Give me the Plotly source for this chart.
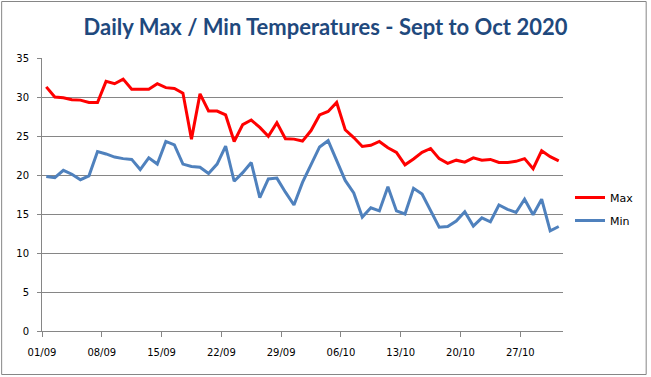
import pandas as pd
import plotly.graph_objects as go

start_date = "2020-09-01"
n_days = 61
max_temps = [31.3, 30.0, 29.9, 29.65, 29.6, 29.3, 29.3, 32.0, 31.7, 32.3,
             31.0, 31.0, 31.0, 31.7, 31.2, 31.1, 30.5, 24.6, 30.4, 28.2,
             28.2, 27.7, 24.3, 26.45, 27.05, 26.1, 24.95, 26.7, 24.65, 24.6,
             24.35, 25.7, 27.7, 28.15, 29.3, 25.8, 24.8, 23.65, 23.8, 24.3,
             23.5, 22.9, 21.3, 22.05, 22.9, 23.4, 22.1, 21.5, 21.9, 21.65,
             22.2, 21.9, 22.0, 21.6, 21.6, 21.75, 22.1, 20.8, 23.1, 22.35, 21.8]
min_temps = [19.8, 19.65, 20.6, 20.1, 19.4, 19.9, 23.0, 22.7, 22.3, 22.1,
             22.0, 20.7, 22.2, 21.4, 24.3, 23.85, 21.4, 21.1, 21.0, 20.2,
             21.4, 23.7, 19.2, 20.3, 21.6, 17.1, 19.5, 19.6, 17.8, 16.15,
             19.05, 21.4, 23.6, 24.4, 21.8, 19.3, 17.7, 14.6, 15.8, 15.4,
             18.5, 15.4, 15.0, 18.3, 17.55, 15.5, 13.3, 13.4, 14.1, 15.3,
             13.45, 14.5, 14.0, 16.15, 15.6, 15.2, 16.9, 14.9, 16.9, 12.85, 13.4]
series_names = ["Max", "Min"]
title_text = "Daily Max / Min Temperatures - Sept to Oct 2020"

days = pd.date_range(start_date, periods=n_days, freq="D")
# Excel-style date axis: points sit in the middle of each day slot
x_mid = days + pd.Timedelta(hours=12)

W, H = 651, 377
ml, mr, mt, mb = 42, 86, 58, 46
pw, ph = W - ml - mr, H - mt - mb

fig = go.Figure()
fig.add_trace(go.Scatter(x=x_mid, y=max_temps, name=series_names[0], mode="lines",
                         line=dict(color="#FF0000", width=3), legendgroup="a"))
fig.add_trace(go.Scatter(x=x_mid, y=min_temps, name=series_names[1], mode="lines",
                         line=dict(color="#4F81BD", width=3), legendgroup="b"))

grid = "#868686"
tickfont = dict(family="DejaVu Sans", size=10, color="black")
fig.update_layout(
    width=W, height=H,
    margin=dict(l=ml, r=mr, t=mt, b=mb),
    paper_bgcolor="white", plot_bgcolor="white",
    title=dict(text="<b>" + title_text + "</b>", x=0.5, xref="container", xanchor="center",
               y=1 - 27 / H, yref="container", yanchor="middle",
               font=dict(family="Lato", size=22, color="#1F497D")),
    font=dict(family="DejaVu Sans", size=11, color="black"),
    showlegend=True,
    legend=dict(x=(572 - ml) / pw, xanchor="left", y=(H - mb - 209) / ph, yanchor="middle",
                tracegroupgap=4, font=dict(family="DejaVu Sans", size=11, color="black"),
                bgcolor="rgba(0,0,0,0)"),
    xaxis=dict(type="date", range=[days[0], days[-1] + pd.Timedelta(days=1)],
               tick0=days[0], dtick=7 * 24 * 3600 * 1000, tickformat="%d/%m",
               showgrid=False, showline=True, linecolor=grid, linewidth=1,
               ticks="outside", ticklen=5, tickcolor=grid, zeroline=False,
               ticklabelstandoff=7, tickfont=tickfont),
    yaxis=dict(range=[0, 35], dtick=5, showgrid=True, gridcolor=grid, gridwidth=1,
               showline=True, linecolor=grid, linewidth=1, ticks="outside", ticklen=4,
               tickcolor=grid, zeroline=False, ticklabelstandoff=6, tickfont=tickfont),
    shapes=[dict(type="rect", xref="paper", yref="paper",
                 x0=(1.5 - ml) / pw, x1=(W - 2.5 - ml) / pw,
                 y0=-(mb - 2.5) / ph, y1=1 + (mt - 1.5) / ph,
                 line=dict(color=grid, width=1), fillcolor="rgba(0,0,0,0)", layer="below")],
)

fig.write_html("out.html", config={"displayModeBar": False},
               post_script="document.body.style.margin='0px';document.body.style.overflow='hidden';")
